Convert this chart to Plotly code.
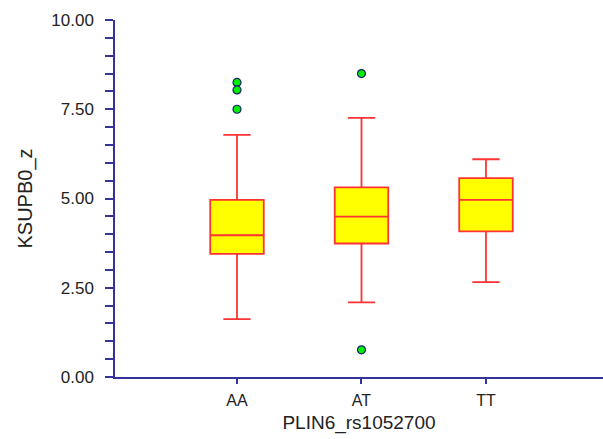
import plotly.graph_objects as go

# Genotype groups and their box statistics
genotypes = ["AA", "AT", "TT"]
lower_whisker = [1.62, 2.09, 2.66]
q1 = [3.45, 3.74, 4.08]
median = [3.97, 4.49, 4.96]
q3 = [4.96, 5.31, 5.57]
upper_whisker = [6.78, 7.26, 6.10]

# Outlying observations
outlier_group = ["AA", "AA", "AA", "AT", "AT"]
outlier_value = [8.25, 8.04, 7.50, 8.50, 0.76]

axis_color = "#33339a"
box_line = "#ff3333"
text_color = "#222222"

fig = go.Figure()
fig.add_trace(go.Box(
    x=genotypes,
    q1=q1,
    median=median,
    q3=q3,
    lowerfence=lower_whisker,
    upperfence=upper_whisker,
    fillcolor="#ffff00",
    line=dict(color=box_line, width=1.8),
    width=0.43,
    whiskerwidth=0.51,
    boxpoints=False,
    showlegend=False,
    hoverinfo="skip",
))
fig.add_trace(go.Scatter(
    x=outlier_group,
    y=outlier_value,
    mode="markers",
    marker=dict(color="#00ee00", size=8, line=dict(color="#1a2070", width=1.2)),
    showlegend=False,
    hoverinfo="skip",
))

font_family = "Liberation Sans, Arial, sans-serif"
fig.update_layout(
    width=603,
    height=439,
    margin=dict(l=115, r=0, t=20, b=62),
    paper_bgcolor="white",
    plot_bgcolor="white",
    font=dict(family=font_family, color=text_color),
    xaxis=dict(
        type="category",
        categoryorder="array",
        categoryarray=genotypes,
        range=[-0.98, 2.94],
        showline=True,
        linecolor=axis_color,
        linewidth=1.5,
        ticks="outside",
        ticklen=5,
        tickcolor=axis_color,
        tickwidth=1.5,
        ticklabelstandoff=3,
        showgrid=False,
        zeroline=False,
        tickfont=dict(size=16, color=text_color),
        title=dict(text="PLIN6_rs1052700", font=dict(size=19, color=text_color), standoff=8),
    ),
    yaxis=dict(
        range=[0, 10],
        tickmode="array",
        tickvals=[0, 2.5, 5, 7.5, 10],
        tickformat=".2f",
        showline=True,
        linecolor=axis_color,
        linewidth=1.5,
        ticks="outside",
        ticklen=8,
        tickcolor=axis_color,
        tickwidth=1.5,
        ticklabelstandoff=8,
        minor=dict(dtick=0.5, ticks="outside", ticklen=8, tickcolor=axis_color, tickwidth=1.5),
        showgrid=False,
        zeroline=False,
        tickfont=dict(size=17, color=text_color),
        title=dict(text="KSUPB0_z", font=dict(size=20, color=text_color), standoff=13),
    ),
)

fig.write_html("out.html")
